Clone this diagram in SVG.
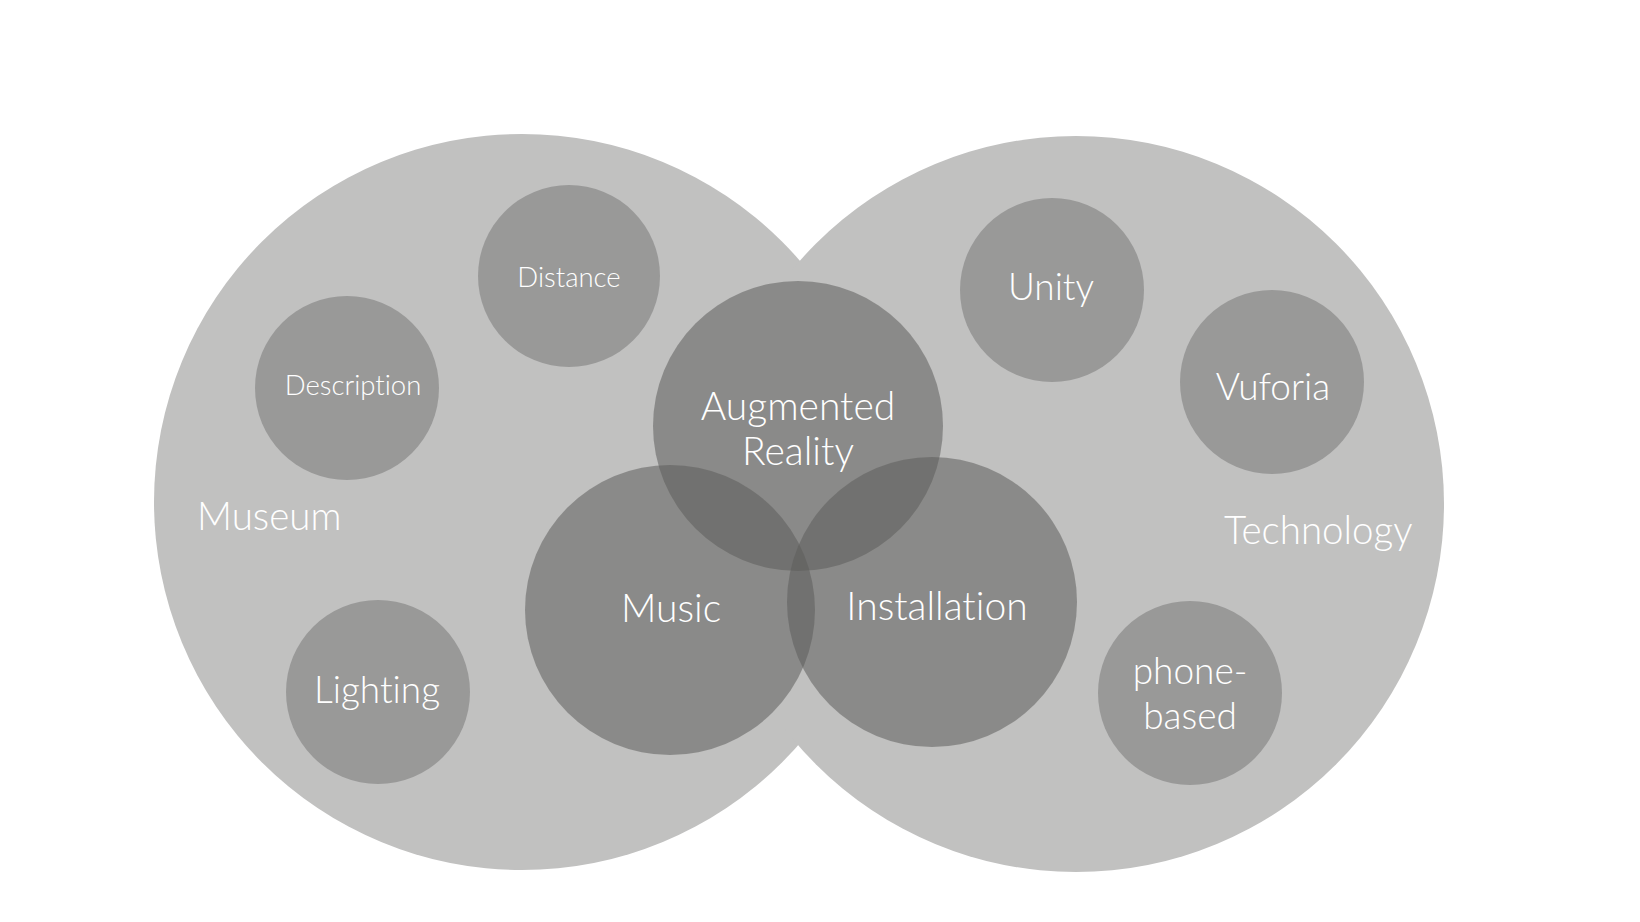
<svg xmlns="http://www.w3.org/2000/svg" width="1640" height="922" viewBox="0 0 1640 922">
<style>
.big{fill:#c1c1c0}
.small{fill:#999998}
.mid{fill:#5c5c5b;fill-opacity:0.54}
text{font-family:"Lato","Open Sans","Liberation Sans",sans-serif;fill:#ffffff;text-anchor:middle;font-variant-ligatures:none;font-feature-settings:"liga" 0;font-weight:300}
.l{font-size:37px}
.t{font-size:38.5px;text-anchor:start}
.m{font-size:39px}
.s{font-size:27.5px}
</style>
<rect width="1640" height="922" fill="#ffffff"/>
<g id="museum">
<circle class="big" cx="522" cy="502" r="368"/>
</g>
<g id="technology">
<circle class="big" cx="1076" cy="504" r="368"/>
</g>
<g id="museum-label"><text class="t" x="197" y="530">Museum</text></g>
<g id="technology-label"><text class="t" x="1224" y="544">Technology</text></g>
<g id="distance">
<circle class="small" cx="569" cy="276" r="91"/>
<text class="s" x="569" y="287">Distance</text>
</g>
<g id="description">
<circle class="small" cx="347" cy="388" r="92"/>
<text class="s" x="353" y="395">Description</text>
</g>
<g id="lighting">
<circle class="small" cx="378" cy="692" r="92"/>
<text class="l" x="377" y="703">Lighting</text>
</g>
<g id="unity">
<circle class="small" cx="1052" cy="290" r="92"/>
<text class="l" x="1051" y="300">Unity</text>
</g>
<g id="vuforia">
<circle class="small" cx="1272" cy="382" r="92"/>
<text class="l" x="1273" y="400">Vuforia</text>
</g>
<g id="phone-based">
<circle class="small" cx="1190" cy="693" r="92"/>
<text class="l" x="1190" y="684">phone-</text>
<text class="l" x="1190" y="729">based</text>
</g>
<g id="augmented-reality">
<circle class="mid" cx="798" cy="426" r="145"/>
</g>
<g id="music">
<circle class="mid" cx="670" cy="610" r="145"/>
</g>
<g id="installation">
<circle class="mid" cx="932" cy="602" r="145"/>
</g>
<g id="mid-labels">
<text class="m" x="798" y="420">Augmented</text>
<text class="m" x="798" y="465">Reality</text>
<text class="m" x="671" y="622">Music</text>
<text class="m" x="937" y="620">Installation</text>
</g>
<g id="connectors"></g>
</svg>
